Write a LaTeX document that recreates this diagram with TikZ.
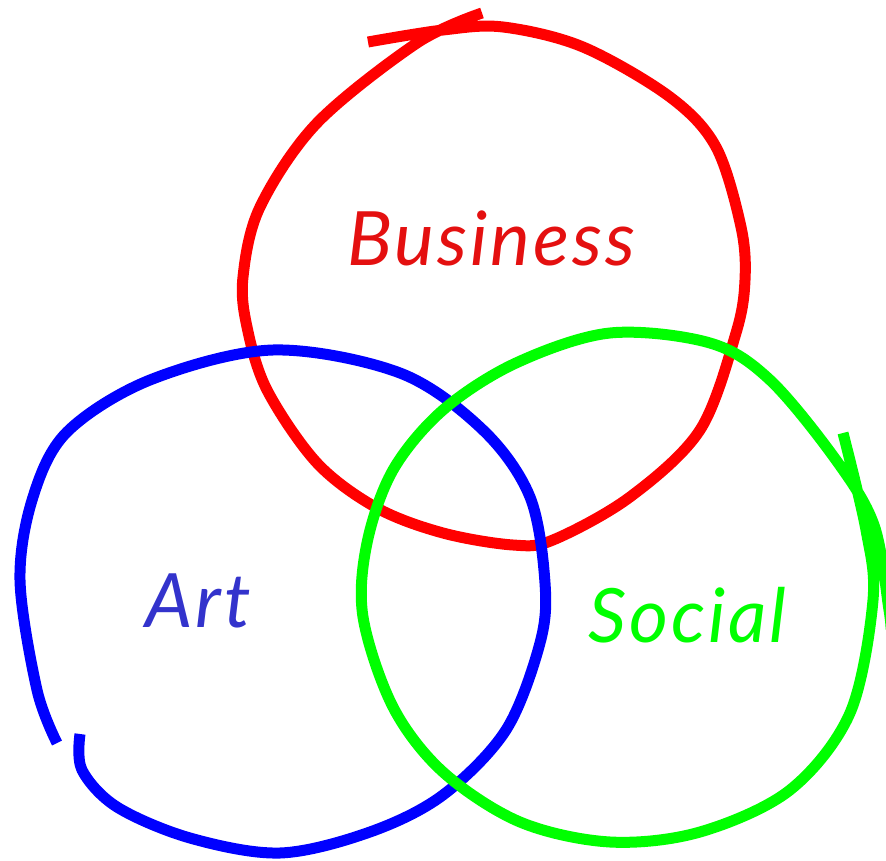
\documentclass[tikz,border=0pt]{standalone}
\usepackage{fontspec}
\setmainfont{Lato}
\begin{document}
\begin{tikzpicture}[x=1pt,y=-1pt,
  loop/.style={line width=11pt,line cap=butt,line join=round},
  lbl/.style={anchor=base west,inner sep=0pt,font=\fontsize{75}{80}\selectfont\itshape\addfontfeature{LetterSpace=4}}]
\useasboundingbox (0,0) rectangle (886,861);
\definecolor{rd}{RGB}{255,0,0}
\definecolor{bl}{RGB}{0,0,255}
\definecolor{gr}{RGB}{0,255,0}
\definecolor{rdtext}{RGB}{228,16,16}
\definecolor{bltext}{RGB}{51,51,204}
% red loop
\draw[loop,rd] plot[smooth,tension=0.55] coordinates {(368,42) (443,30) (503,27) (583,47) (670,97) (716,147) (741,227) (745,280) (736,333) (700,430) (630,497) (553,540) (513,545) (443,533) (377,508) (317,463) (267,390) (247,327) (243,277) (260,207) (317,123) (417,43) (482,13)};
% blue loop
\draw[loop,bl] plot[smooth,tension=0.55] coordinates {(80,734) (82,770) (117,807) (190,838) (280,853) (370,832) (443,795) (506,730) (540,643) (545,583) (530,497) (483,430) (400,373) (273,350) (150,380) (67,432) (33,497) (20,580) (37,690) (57,743)};
% green loop
\draw[loop,gr] plot[smooth,tension=0.55] coordinates {(843,433) (866,530) (873,600) (850,713) (790,790) (700,832) (610,842) (520,822) (443,772) (393,707) (363,617) (367,543) (393,470) (443,410) (516,363) (610,333) (710,343) (770,380) (836,460) (874,525) (889,610) (891,630)};
\node[lbl,text=rdtext] (business) at (347,265) {Business};
\node[lbl,text=bltext] (art) at (145,627) {Art};
\node[lbl,text=gr] (social) at (588,642) {Social};
\end{tikzpicture}
\end{document}
